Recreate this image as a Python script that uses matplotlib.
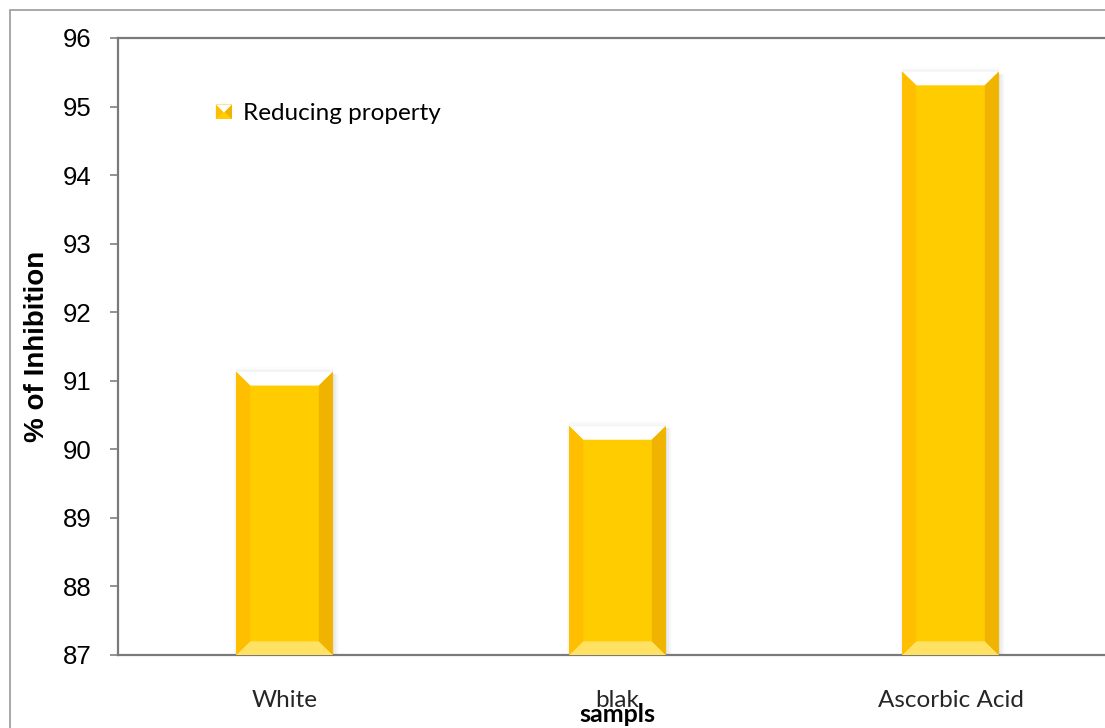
import numpy as np
import matplotlib.pyplot as plt
from matplotlib.patches import Polygon, Rectangle
from matplotlib.legend_handler import HandlerBase

# данные
samples = ['White', 'blak', 'Ascorbic Acid']
inhibition = [91.13, 90.34, 95.51]
series_name = 'Reducing property'
y_ticks = [87, 88, 89, 90, 91, 92, 93, 94, 95, 96]

y_min, y_max = 87, 96
bar_w = 0.29
bevel_dx, bevel_dy = 0.042, 0.2

face = '#FFCC00'
left_face = '#FFBE00'
right_face = '#F0B400'
bottom_face = '#FFE163'
top_face = '#FFFFFF'


# рисование "выпуклых" граней столбца
def add_bevel(ax, x0, w, bot, top):
    x1 = x0 + w
    dx, dy = bevel_dx, bevel_dy
    # мягкая тень вокруг столбца
    for i, a in enumerate([0.22, 0.12, 0.06]):
        ax.add_patch(Rectangle((x1 + i * 0.005, bot), 0.005, top - bot - 0.03,
                               facecolor='#707070', alpha=a, lw=0, zorder=2))
    for i, a in enumerate([0.07, 0.04]):
        ax.add_patch(Rectangle((x0 - (i + 1) * 0.004, bot), 0.004, top - bot,
                               facecolor='#707070', alpha=a, lw=0, zorder=2))
    for i, a in enumerate([0.09, 0.05, 0.025]):
        ax.add_patch(Rectangle((x0, top + i * 0.022), w, 0.022,
                               facecolor='#808080', alpha=a, lw=0, zorder=2))
    faces = [
        ([(x0, top), (x1, top), (x1 - dx, top - dy), (x0 + dx, top - dy)], top_face),
        ([(x0, bot), (x1, bot), (x1 - dx, bot + dy), (x0 + dx, bot + dy)], bottom_face),
        ([(x0, bot), (x0 + dx, bot + dy), (x0 + dx, top - dy), (x0, top)], left_face),
        ([(x1, bot), (x1 - dx, bot + dy), (x1 - dx, top - dy), (x1, top)], right_face),
    ]
    for pts, c in faces:
        ax.add_patch(Polygon(pts, closed=True, facecolor=c, edgecolor='none', zorder=4))


# значок в легенде
class HandlerBevel(HandlerBase):
    def create_artists(self, legend, orig_handle, xdescent, ydescent,
                       width, height, fontsize, trans):
        x0, y0 = -xdescent, -ydescent
        w, h = width, height
        arts = [
            Rectangle((x0, y0), w, h, facecolor=face, lw=0),
            Polygon([(x0, y0), (x0 + w * 0.45, y0 + h * 0.5), (x0, y0 + h)],
                    facecolor=left_face, lw=0),
            Polygon([(x0 + w, y0), (x0 + w * 0.55, y0 + h * 0.5), (x0 + w, y0 + h)],
                    facecolor=right_face, lw=0),
            Polygon([(x0, y0 + h), (x0 + w * 0.5, y0 + h * 0.45), (x0 + w, y0 + h)],
                    facecolor='white', lw=0),
        ]
        for a in arts:
            a.set_transform(trans)
        return arts


def main():
    fig = plt.figure(figsize=(11.05, 7.28), dpi=100)
    ax = fig.add_axes([118 / 1105, 73 / 728, 999 / 1105, 617 / 728])

    # внешняя рамка
    fig.add_artist(Rectangle((10 / 1105, -0.1), 1.2, (718 / 728) + 0.1,
                             transform=fig.transFigure, fill=False,
                             edgecolor='#9a9a9a', lw=1.2))

    x = np.arange(len(samples))
    heights = [v - y_min for v in inhibition]
    bars = ax.bar(x, heights, bottom=y_min, width=bar_w, color=face,
                  edgecolor='none', zorder=3, label=series_name)
    for b in bars:
        add_bevel(ax, b.get_x(), b.get_width(), b.get_y(), b.get_y() + b.get_height())

    ax.set_xlim(-0.5, 2.5)
    ax.set_ylim(y_min, y_max)
    ax.set_yticks(y_ticks)
    ax.set_yticklabels([str(t) for t in y_ticks], fontsize=18.5,
                       family='Liberation Sans', color='black')
    ax.tick_params(axis='y', length=6, width=1.2, color='#808080', pad=13)

    ax.set_xticks(x)
    ax.set_xticklabels(samples, fontsize=17.5, family='Lato', color='#262626')
    ax.tick_params(axis='x', length=0, pad=25)

    for side in ['left', 'top', 'bottom']:
        ax.spines[side].set_color('#7a7a7a')
        ax.spines[side].set_linewidth(1.6)
    ax.spines['right'].set_visible(False)

    ax.set_ylabel('% of Inhibition', fontsize=20, fontweight='bold',
                  family='Liberation Sans')
    ax.yaxis.set_label_coords(-0.068, 0.5)
    ax.set_xlabel('sampls', fontsize=18, fontweight='bold', family='Lato')
    ax.xaxis.set_label_coords(0.5, -0.078)

    ax.legend(handles=[bars], labels=[series_name],
              handler_map={type(bars): HandlerBevel()},
              loc='center left', bbox_to_anchor=(0.098, 0.877),
              frameon=False, prop={'family': 'Lato', 'size': 17.5},
              handlelength=0.66, handleheight=0.55, handletextpad=0.45,
              borderpad=0, borderaxespad=0)

    fig.savefig('out.png', dpi=100)


if __name__ == '__main__':
    main()
